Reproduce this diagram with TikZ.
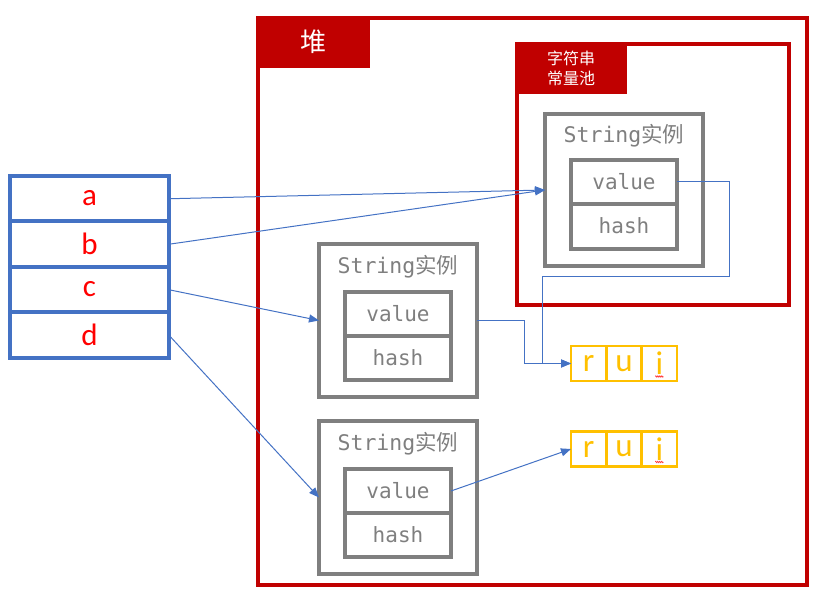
\documentclass[tikz,border=0pt]{standalone}
\usepackage{fontspec}
\setmainfont{Carlito}
\newfontfamily\cjk{Noto Sans CJK SC}
\newfontfamily\mono{DejaVu Sans Mono}
\usetikzlibrary{arrows.meta,decorations.pathmorphing}
\definecolor{hred}{HTML}{C00000}
\definecolor{sblue}{HTML}{4472C4}
\definecolor{igray}{HTML}{7F7F7F}
\definecolor{cyel}{HTML}{FFC000}
\definecolor{tred}{HTML}{FF0000}
\tikzset{
  box/.style={draw, line width=#1, inner sep=0pt, outer sep=0pt},
  heapbox/.style={box=4pt, draw=hred},
  tabbox/.style={fill=hred, inner sep=0pt, text=white, align=center},
  stackcell/.style={box=4pt, draw=sblue, minimum width=159pt, minimum height=45.5pt,
    text=tred, font=\fontsize{31}{31}\selectfont, text depth=1pt},
  instbox/.style={box=4pt, draw=igray, minimum width=158pt},
  fieldcell/.style={box=4pt, draw=igray, minimum width=106pt, minimum height=44pt,
    text=igray, font=\mono\fontsize{21}{21}\selectfont, text depth=1pt},
  instlabel/.style={text=igray, inner sep=0pt, font=\fontsize{21.5}{21.5}\selectfont},
  charcell/.style={box=2.5pt, draw=cyel, minimum width=35.33pt, minimum height=35pt,
    text=cyel, font=\fontsize{33}{33}\selectfont},
  conn/.style={draw=sblue, line width=1pt, -{Triangle[length=10pt,width=8pt]}},
  squig/.style={draw=tred, line width=0.5pt, decorate,
    decoration={zigzag, amplitude=0.8pt, segment length=2pt}}
}
\begin{document}
\begin{tikzpicture}[x=1pt,y=-1pt]
\useasboundingbox (0,0) rectangle (823,601);
% heap
\node[heapbox, minimum width=549pt, minimum height=567pt] (heap) at (532.5,301.5) {};
\node[tabbox, minimum width=114pt, minimum height=52pt, font=\cjk\fontsize{26}{26}\selectfont] (heaptab) at (313,42) {堆};
% string constant pool
\node[heapbox, minimum width=272pt, minimum height=261pt] (pool) at (653,174.5) {};
\node[tabbox, minimum width=112pt, minimum height=52pt, font=\cjk\fontsize{16}{20}\selectfont] (pooltab) at (571,68) {字符串\\常量池};
% pool instance
\node[instbox, minimum height=152pt] (poolo) at (624,190) {};
\node[instlabel] (pooll) at (624,136) {{\mono String}{\cjk 实例}};
\node[fieldcell] (poolv) at (624,182) {value};
\node[fieldcell, minimum height=45pt] (poolh) at (624,226.5) {hash};
% middle instance
\node[instbox, minimum height=153pt] (mido) at (398,320.5) {};
\node[instlabel] (midl) at (398,267) {{\mono String}{\cjk 实例}};
\node[fieldcell] (midv) at (398,314) {value};
\node[fieldcell] (midh) at (398,358) {hash};
% bottom instance
\node[instbox, minimum height=153pt] (boto) at (398,497.5) {};
\node[instlabel] (botl) at (398,444) {{\mono String}{\cjk 实例}};
\node[fieldcell] (botv) at (398,491) {value};
\node[fieldcell] (both) at (398,535) {hash};
% stack
\node[stackcell] (sa) at (89.5,198.75) {a};
\node[stackcell] (sb) at (89.5,244.25) {b};
\node[stackcell] (sc) at (89.5,289.75) {c};
\node[stackcell] (sd) at (89.5,335.25) {d};
% char arrays
\node[charcell] (r1a) at (588.67,363.5) {r};
\node[charcell] (r1b) at (624,363.5) {u};
\node[charcell] (r1c) at (659.33,363.5) {i};
\node[charcell] (r2a) at (588.67,449) {r};
\node[charcell] (r2b) at (624,449) {u};
\node[charcell] (r2c) at (659.33,449) {i};
\draw[squig] ([xshift=-4pt,yshift=-13pt]r1c.center) -- ++(8,0);
\draw[squig] ([xshift=-4pt,yshift=-13pt]r2c.center) -- ++(8,0);
% connectors
\draw[conn] (sa.east) -- (poolo.west);
\draw[conn] (sb.east) -- (poolo.west);
\draw[conn] (sc.east) -- (mido.west);
\draw[conn] (sd.east) -- (boto.west);
\draw[conn] (botv.east) -- (r2a.west);
\coordinate (m1) at (524,363.5);
\draw[conn] (mido.east) -| (m1) -- (r1a.west);
\coordinate (p1) at (729,277);
\coordinate (p2) at (542,363.5);
\draw[conn] (poolv.east) -| (p1) -| (p2) -- (r1a.west);
\end{tikzpicture}
\end{document}
